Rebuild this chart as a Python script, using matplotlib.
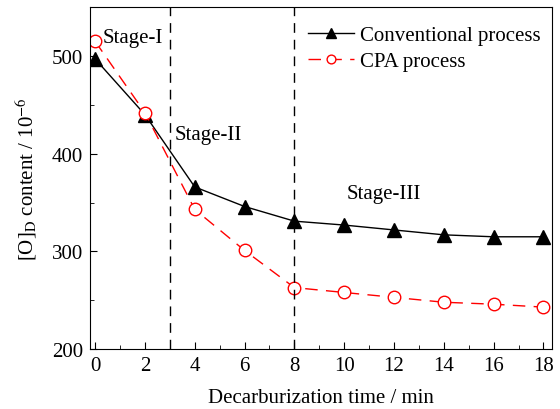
import matplotlib
matplotlib.use("Agg")
import matplotlib.pyplot as plt
from matplotlib.ticker import MultipleLocator

plt.rcParams['font.family'] = ['Liberation Serif', 'DejaVu Serif']
plt.rcParams['mathtext.fontset'] = 'stix'

# decarburization time (min) and [O]D content (10^-6)
time_min = [0, 2, 4, 6, 8, 10, 12, 14, 16, 18]
conventional = [497, 440, 366, 346, 331, 327, 322, 317, 315, 315]
cpa = [515, 442, 343, 301, 263, 258, 253, 248, 246, 243]
stage_bounds = [3, 8]

fig = plt.figure(figsize=(5.6, 4.1), dpi=100)
ax = fig.add_axes([0.161, 0.146, 0.825, 0.834])

ax.plot(time_min, conventional, color='black', lw=1.0, marker='^',
        markersize=10, markerfacecolor='black', label='Conventional process')
ax.plot(time_min, cpa, color='red', lw=1.0, ls=(0, (9, 6)), marker='o',
        markersize=9, markerfacecolor='white', markeredgecolor='red',
        label='CPA process')

for xb in stage_bounds:
    ax.axvline(xb, color='black', lw=1.0, ls=(0, (7, 5)))

ax.text(0.3, 514, 'Stage-I', fontsize=15)
ax.text(3.2, 415, 'Stage-II', fontsize=15)
ax.text(10.1, 355, 'Stage-III', fontsize=15)

ax.set_xlim(-0.2, 18.35)
ax.set_ylim(200, 550)
ax.xaxis.set_major_locator(MultipleLocator(2))
ax.xaxis.set_minor_locator(MultipleLocator(1))
ax.yaxis.set_major_locator(MultipleLocator(100))
ax.yaxis.set_minor_locator(MultipleLocator(50))
ax.tick_params(which='both', direction='in', labelsize=15, top=False, right=False)
ax.tick_params(which='major', length=5, pad=5)
ax.tick_params(which='minor', length=3)

ax.set_xlabel('Decarburization time / min', fontsize=15, labelpad=9)
ax.set_ylabel(r'[O]$_\mathrm{D}$ content / 10$^{-6}$', fontsize=15, labelpad=9)

ax.legend(loc='upper right', bbox_to_anchor=(1.0, 0.98), frameon=False,
          fontsize=15, handlelength=2.2, markerscale=0.7, borderaxespad=0.15,
          labelspacing=0.3, handletextpad=0.3)

fig.savefig('out.png', dpi=100)
